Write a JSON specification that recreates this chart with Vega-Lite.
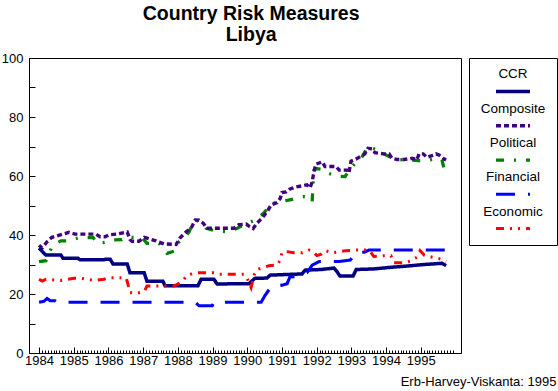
{
"$schema": "https://vega.github.io/schema/vega-lite/v6.json",
"padding": {"left": 0, "top": 4, "right": 0, "bottom": 0},
"background": "white",
"config": {"font": "Liberation Sans", "view": {"stroke": "black", "strokeWidth": 1}},
"title": {"text": ["Country Risk Measures", "Libya"], "fontSize": 19.5, "fontWeight": "bold", "lineHeight": 21, "anchor": "middle", "dx": -28, "offset": 6, "color": "black", "font": "Liberation Sans"},
"spacing": 8,
"bounds": "flush",
"resolve": {"scale": {"x": "independent", "y": "independent", "color": "independent", "strokeDash": "independent", "strokeWidth": "independent"}},
"datasets": {
"series": [
{"s":"Political","t":1984.00,"v":31.0},{"s":"Political","t":1984.20,"v":31.3},{"s":"Political","t":1984.35,"v":35.4},{"s":"Political","t":1984.49,"v":37.2},{"s":"Political","t":1984.63,"v":38.0},{"s":"Political","t":1984.86,"v":38.0},{"s":"Political","t":1985.15,"v":39.1},{"s":"Political","t":1985.56,"v":39.1},{"s":"Political","t":1985.67,"v":37.2},{"s":"Political","t":1985.84,"v":37.4},{"s":"Political","t":1986.02,"v":37.8},{"s":"Political","t":1986.10,"v":38.3},{"s":"Political","t":1986.39,"v":38.4},{"s":"Political","t":1986.51,"v":39.2},{"s":"Political","t":1986.97,"v":39.1},{"s":"Political","t":1987.11,"v":37.2},{"s":"Political","t":1987.46,"v":37.2},{"s":"Political","t":1987.60,"v":34.9},{"s":"Political","t":1987.69,"v":33.8},{"s":"Political","t":1987.89,"v":34.5},{"s":"Political","t":1987.98,"v":37.2},{"s":"Political","t":1988.18,"v":38.9},{"s":"Political","t":1988.32,"v":41.0},{"s":"Political","t":1988.41,"v":43.4},{"s":"Political","t":1988.52,"v":45.1},{"s":"Political","t":1988.70,"v":44.0},{"s":"Political","t":1988.81,"v":42.3},{"s":"Political","t":1989.04,"v":41.5},{"s":"Political","t":1989.42,"v":41.1},{"s":"Political","t":1989.71,"v":42.3},{"s":"Political","t":1989.91,"v":43.5},{"s":"Political","t":1990.05,"v":44.2},{"s":"Political","t":1990.25,"v":45.1},{"s":"Political","t":1990.48,"v":47.5},{"s":"Political","t":1990.71,"v":50.7},{"s":"Political","t":1990.97,"v":51.3},{"s":"Political","t":1991.26,"v":52.0},{"s":"Political","t":1991.64,"v":53.0},{"s":"Political","t":1991.81,"v":52.6},{"s":"Political","t":1991.87,"v":51.3},{"s":"Political","t":1991.90,"v":58.0},{"s":"Political","t":1991.93,"v":62.0},{"s":"Political","t":1992.01,"v":62.5},{"s":"Political","t":1992.16,"v":62.3},{"s":"Political","t":1992.30,"v":61.1},{"s":"Political","t":1992.56,"v":60.0},{"s":"Political","t":1992.82,"v":59.8},{"s":"Political","t":1992.93,"v":61.9},{"s":"Political","t":1993.11,"v":64.3},{"s":"Political","t":1993.28,"v":66.0},{"s":"Political","t":1993.37,"v":67.7},{"s":"Political","t":1993.46,"v":69.9},{"s":"Political","t":1993.77,"v":68.8},{"s":"Political","t":1993.94,"v":67.5},{"s":"Political","t":1994.06,"v":66.8},{"s":"Political","t":1994.29,"v":65.4},{"s":"Political","t":1994.58,"v":65.6},{"s":"Political","t":1994.95,"v":65.2},{"s":"Political","t":1995.18,"v":65.2},{"s":"Political","t":1995.47,"v":66.0},{"s":"Political","t":1995.61,"v":65.5},{"s":"Political","t":1995.67,"v":62.6},{"s":"Political","t":1995.73,"v":60.9},
{"s":"Composite","t":1984.00,"v":36.5},{"s":"Composite","t":1984.09,"v":35.6},{"s":"Composite","t":1984.23,"v":37.7},{"s":"Composite","t":1984.37,"v":39.2},{"s":"Composite","t":1984.52,"v":39.7},{"s":"Composite","t":1984.66,"v":40.2},{"s":"Composite","t":1984.86,"v":40.9},{"s":"Composite","t":1985.04,"v":40.3},{"s":"Composite","t":1985.64,"v":40.3},{"s":"Composite","t":1985.76,"v":39.4},{"s":"Composite","t":1985.90,"v":39.4},{"s":"Composite","t":1986.02,"v":40.1},{"s":"Composite","t":1986.25,"v":40.3},{"s":"Composite","t":1986.54,"v":41.0},{"s":"Composite","t":1986.62,"v":38.5},{"s":"Composite","t":1986.68,"v":37.9},{"s":"Composite","t":1986.88,"v":37.9},{"s":"Composite","t":1987.03,"v":39.2},{"s":"Composite","t":1987.23,"v":38.5},{"s":"Composite","t":1987.37,"v":38.0},{"s":"Composite","t":1987.60,"v":37.0},{"s":"Composite","t":1987.95,"v":36.8},{"s":"Composite","t":1988.06,"v":39.0},{"s":"Composite","t":1988.24,"v":41.1},{"s":"Composite","t":1988.38,"v":42.3},{"s":"Composite","t":1988.50,"v":45.1},{"s":"Composite","t":1988.61,"v":45.0},{"s":"Composite","t":1988.73,"v":44.0},{"s":"Composite","t":1988.84,"v":42.3},{"s":"Composite","t":1989.62,"v":42.3},{"s":"Composite","t":1989.76,"v":43.5},{"s":"Composite","t":1989.97,"v":43.7},{"s":"Composite","t":1990.05,"v":43.0},{"s":"Composite","t":1990.17,"v":42.2},{"s":"Composite","t":1990.28,"v":44.0},{"s":"Composite","t":1990.43,"v":45.8},{"s":"Composite","t":1990.57,"v":47.9},{"s":"Composite","t":1990.69,"v":50.2},{"s":"Composite","t":1990.86,"v":51.0},{"s":"Composite","t":1990.95,"v":52.4},{"s":"Composite","t":1991.00,"v":54.4},{"s":"Composite","t":1991.12,"v":54.6},{"s":"Composite","t":1991.23,"v":55.6},{"s":"Composite","t":1991.38,"v":56.2},{"s":"Composite","t":1991.72,"v":57.0},{"s":"Composite","t":1991.81,"v":56.0},{"s":"Composite","t":1991.87,"v":58.0},{"s":"Composite","t":1991.93,"v":62.0},{"s":"Composite","t":1991.98,"v":64.0},{"s":"Composite","t":1992.16,"v":64.8},{"s":"Composite","t":1992.24,"v":63.2},{"s":"Composite","t":1992.56,"v":63.2},{"s":"Composite","t":1992.65,"v":62.0},{"s":"Composite","t":1992.88,"v":62.0},{"s":"Composite","t":1992.93,"v":61.0},{"s":"Composite","t":1992.99,"v":65.0},{"s":"Composite","t":1993.14,"v":65.8},{"s":"Composite","t":1993.25,"v":66.5},{"s":"Composite","t":1993.39,"v":67.5},{"s":"Composite","t":1993.48,"v":69.4},{"s":"Composite","t":1993.60,"v":69.2},{"s":"Composite","t":1993.68,"v":67.9},{"s":"Composite","t":1993.94,"v":67.5},{"s":"Composite","t":1994.09,"v":67.5},{"s":"Composite","t":1994.17,"v":66.0},{"s":"Composite","t":1994.32,"v":65.6},{"s":"Composite","t":1994.52,"v":65.6},{"s":"Composite","t":1994.75,"v":66.0},{"s":"Composite","t":1994.89,"v":65.5},{"s":"Composite","t":1994.95,"v":67.5},{"s":"Composite","t":1995.07,"v":67.5},{"s":"Composite","t":1995.18,"v":66.3},{"s":"Composite","t":1995.30,"v":66.8},{"s":"Composite","t":1995.44,"v":67.5},{"s":"Composite","t":1995.53,"v":67.1},{"s":"Composite","t":1995.64,"v":66.0},{"s":"Composite","t":1995.73,"v":65.4},
{"s":"CCR","t":1984.00,"v":35.6},{"s":"CCR","t":1984.14,"v":33.8},{"s":"CCR","t":1984.20,"v":33.2},{"s":"CCR","t":1984.63,"v":33.2},{"s":"CCR","t":1984.69,"v":32.1},{"s":"CCR","t":1985.12,"v":32.1},{"s":"CCR","t":1985.18,"v":31.6},{"s":"CCR","t":1985.87,"v":31.6},{"s":"CCR","t":1985.93,"v":31.8},{"s":"CCR","t":1986.05,"v":31.8},{"s":"CCR","t":1986.13,"v":30.2},{"s":"CCR","t":1986.54,"v":30.2},{"s":"CCR","t":1986.62,"v":27.2},{"s":"CCR","t":1987.03,"v":27.2},{"s":"CCR","t":1987.11,"v":24.3},{"s":"CCR","t":1987.57,"v":24.3},{"s":"CCR","t":1987.63,"v":22.8},{"s":"CCR","t":1988.58,"v":22.8},{"s":"CCR","t":1988.67,"v":25.0},{"s":"CCR","t":1989.04,"v":25.0},{"s":"CCR","t":1989.13,"v":23.4},{"s":"CCR","t":1990.05,"v":23.5},{"s":"CCR","t":1990.22,"v":25.3},{"s":"CCR","t":1990.57,"v":25.4},{"s":"CCR","t":1990.66,"v":26.4},{"s":"CCR","t":1991.12,"v":26.6},{"s":"CCR","t":1991.58,"v":26.8},{"s":"CCR","t":1991.67,"v":28.1},{"s":"CCR","t":1992.13,"v":28.3},{"s":"CCR","t":1992.50,"v":28.8},{"s":"CCR","t":1992.59,"v":27.5},{"s":"CCR","t":1992.67,"v":26.1},{"s":"CCR","t":1993.05,"v":26.1},{"s":"CCR","t":1993.14,"v":28.3},{"s":"CCR","t":1993.65,"v":28.5},{"s":"CCR","t":1994.09,"v":29.0},{"s":"CCR","t":1994.63,"v":29.5},{"s":"CCR","t":1995.10,"v":30.0},{"s":"CCR","t":1995.61,"v":30.4},{"s":"CCR","t":1995.73,"v":29.6},
{"s":"Financial","t":1984.00,"v":17.2},{"s":"Financial","t":1984.14,"v":17.5},{"s":"Financial","t":1984.23,"v":18.5},{"s":"Financial","t":1984.32,"v":17.7},{"s":"Financial","t":1984.46,"v":17.7},{"s":"Financial","t":1984.52,"v":17.2},{"s":"Financial","t":1988.50,"v":17.2},{"s":"Financial","t":1988.61,"v":16.0},{"s":"Financial","t":1988.99,"v":16.0},{"s":"Financial","t":1989.04,"v":17.2},{"s":"Financial","t":1990.40,"v":17.2},{"s":"Financial","t":1990.51,"v":19.5},{"s":"Financial","t":1990.63,"v":21.5},{"s":"Financial","t":1990.69,"v":22.5},{"s":"Financial","t":1991.00,"v":23.0},{"s":"Financial","t":1991.15,"v":23.5},{"s":"Financial","t":1991.23,"v":25.8},{"s":"Financial","t":1991.49,"v":26.0},{"s":"Financial","t":1991.72,"v":27.2},{"s":"Financial","t":1991.87,"v":29.8},{"s":"Financial","t":1992.07,"v":31.0},{"s":"Financial","t":1992.65,"v":31.0},{"s":"Financial","t":1992.97,"v":31.5},{"s":"Financial","t":1993.14,"v":34.0},{"s":"Financial","t":1993.37,"v":34.2},{"s":"Financial","t":1993.51,"v":34.9},{"s":"Financial","t":1995.73,"v":34.9},
{"s":"Economic","t":1984.00,"v":25.0},{"s":"Economic","t":1984.09,"v":24.4},{"s":"Economic","t":1984.20,"v":25.0},{"s":"Economic","t":1984.63,"v":24.6},{"s":"Economic","t":1985.01,"v":25.3},{"s":"Economic","t":1985.21,"v":25.3},{"s":"Economic","t":1985.59,"v":24.6},{"s":"Economic","t":1985.87,"v":25.0},{"s":"Economic","t":1985.99,"v":25.5},{"s":"Economic","t":1986.51,"v":25.5},{"s":"Economic","t":1986.56,"v":23.4},{"s":"Economic","t":1986.62,"v":20.5},{"s":"Economic","t":1986.80,"v":20.2},{"s":"Economic","t":1987.03,"v":20.8},{"s":"Economic","t":1987.11,"v":22.7},{"s":"Economic","t":1987.89,"v":22.7},{"s":"Economic","t":1988.09,"v":24.0},{"s":"Economic","t":1988.29,"v":26.5},{"s":"Economic","t":1988.55,"v":27.2},{"s":"Economic","t":1989.04,"v":27.2},{"s":"Economic","t":1989.19,"v":26.7},{"s":"Economic","t":1989.91,"v":26.7},{"s":"Economic","t":1990.02,"v":24.7},{"s":"Economic","t":1990.11,"v":22.2},{"s":"Economic","t":1990.20,"v":26.5},{"s":"Economic","t":1990.28,"v":28.3},{"s":"Economic","t":1990.63,"v":29.6},{"s":"Economic","t":1990.86,"v":29.8},{"s":"Economic","t":1990.95,"v":31.5},{"s":"Economic","t":1991.00,"v":34.0},{"s":"Economic","t":1991.06,"v":34.5},{"s":"Economic","t":1991.35,"v":34.0},{"s":"Economic","t":1991.58,"v":34.0},{"s":"Economic","t":1991.78,"v":34.9},{"s":"Economic","t":1991.87,"v":34.6},{"s":"Economic","t":1992.01,"v":33.0},{"s":"Economic","t":1992.13,"v":33.5},{"s":"Economic","t":1992.24,"v":34.7},{"s":"Economic","t":1992.47,"v":34.0},{"s":"Economic","t":1992.85,"v":34.7},{"s":"Economic","t":1993.14,"v":34.9},{"s":"Economic","t":1993.51,"v":34.9},{"s":"Economic","t":1993.65,"v":32.7},{"s":"Economic","t":1993.80,"v":32.8},{"s":"Economic","t":1993.94,"v":33.0},{"s":"Economic","t":1994.14,"v":33.0},{"s":"Economic","t":1994.23,"v":30.6},{"s":"Economic","t":1994.55,"v":30.6},{"s":"Economic","t":1994.72,"v":31.3},{"s":"Economic","t":1994.89,"v":32.5},{"s":"Economic","t":1994.98,"v":34.7},{"s":"Economic","t":1995.10,"v":33.2},{"s":"Economic","t":1995.24,"v":32.7},{"s":"Economic","t":1995.53,"v":32.0},{"s":"Economic","t":1995.73,"v":31.0}
],
"legend": [{"s":"CCR"},{"s":"Composite"},{"s":"Political"},{"s":"Financial"},{"s":"Economic"}]
},
"hconcat": [
{
"width": 432, "height": 295,
"data": {"name": "series"},
"mark": {"type": "line", "clip": true},
"encoding": {
"x": {"field": "t", "type": "quantitative",
 "scale": {"domain": [1983.71, 1996.16], "nice": false, "zero": false},
 "axis": {
  "values": [1984,1984.083,1984.167,1984.25,1984.333,1984.417,1984.5,1984.583,1984.667,1984.75,1984.833,1984.917,1985,1985.083,1985.167,1985.25,1985.333,1985.417,1985.5,1985.583,1985.667,1985.75,1985.833,1985.917,1986,1986.083,1986.167,1986.25,1986.333,1986.417,1986.5,1986.583,1986.667,1986.75,1986.833,1986.917,1987,1987.083,1987.167,1987.25,1987.333,1987.417,1987.5,1987.583,1987.667,1987.75,1987.833,1987.917,1988,1988.083,1988.167,1988.25,1988.333,1988.417,1988.5,1988.583,1988.667,1988.75,1988.833,1988.917,1989,1989.083,1989.167,1989.25,1989.333,1989.417,1989.5,1989.583,1989.667,1989.75,1989.833,1989.917,1990,1990.083,1990.167,1990.25,1990.333,1990.417,1990.5,1990.583,1990.667,1990.75,1990.833,1990.917,1991,1991.083,1991.167,1991.25,1991.333,1991.417,1991.5,1991.583,1991.667,1991.75,1991.833,1991.917,1992,1992.083,1992.167,1992.25,1992.333,1992.417,1992.5,1992.583,1992.667,1992.75,1992.833,1992.917,1993,1993.083,1993.167,1993.25,1993.333,1993.417,1993.5,1993.583,1993.667,1993.75,1993.833,1993.917,1994,1994.083,1994.167,1994.25,1994.333,1994.417,1994.5,1994.583,1994.667,1994.75,1994.833,1994.917,1995,1995.083,1995.167,1995.25,1995.333,1995.417,1995.5,1995.583,1995.667,1995.75,1995.833,1995.917],
  "labelExpr": "abs(datum.value - round(datum.value)) < 0.01 ? format(round(datum.value), 'd') : ''",
  "tickSize": {"condition": {"test": "abs(datum.value - round(datum.value)) < 0.01", "value": -6}, "value": -3},
  "labelPadding": 7,
  "labelFontSize": 13, "labelColor": "black", "labelFont": "Liberation Sans",
  "labelOverlap": false, "labelFlush": false,
  "tickColor": "black", "domainColor": "black", "grid": false,
  "title": "Erb-Harvey-Viskanta: 1995", "titleFontSize": 13, "titleFontWeight": "normal", "titleColor": "black", "titleFont": "Liberation Sans",
  "titleAlign": "right", "titleBaseline": "top", "titleX": 527, "titleY": 22
 }},
"y": {"field": "v", "type": "quantitative",
 "scale": {"domain": [0, 100], "nice": false},
 "axis": {
  "values": [0,10,20,30,40,50,60,70,80,90,100],
  "labelExpr": "datum.value % 20 === 0 ? datum.label : ''",
  "tickSize": -6, "labelPadding": 12,
  "labelFontSize": 13, "labelColor": "black", "labelFont": "Liberation Sans",
  "tickColor": "black", "domainColor": "black", "grid": false, "title": null, "labelOverlap": false, "labelFlush": false
 }},
"color": {"field": "s", "type": "nominal", "legend": null,
 "scale": {"domain": ["CCR","Composite","Political","Financial","Economic"], "range": ["#000080","#400080","#008000","#0000ff","#ff0000"]}},
"strokeDash": {"field": "s", "type": "nominal", "legend": null,
 "scale": {"domain": ["CCR","Composite","Political","Financial","Economic"], "range": [[1,0],[5,3],[8,10,2,10],[19,13],[8,6,2,6,2,6]]}},
"strokeWidth": {"field": "s", "type": "nominal", "legend": null,
 "scale": {"domain": ["CCR","Composite","Political","Financial","Economic"], "range": [3.5,3,2,2,2]}}
}
},
{
"width": 88, "height": 187,
"data": {"name": "legend"},
"layer": [
{"mark": {"type": "text", "fontSize": 13.5, "font": "Liberation Sans", "color": "black", "baseline": "middle", "align": "center", "yOffset": -8.5},
 "encoding": {
  "y": {"field": "s", "type": "nominal", "scale": {"type": "point", "domain": ["CCR","Composite","Political","Financial","Economic"], "padding": 0.726}, "axis": null},
  "text": {"field": "s"}
 }},
{"mark": {"type": "point", "shape": "stroke", "size": 1156, "filled": false, "opacity": 1, "yOffset": 8.5},
 "encoding": {
  "y": {"field": "s", "type": "nominal", "scale": {"type": "point", "domain": ["CCR","Composite","Political","Financial","Economic"], "padding": 0.726}, "axis": null},
  "color": {"field": "s", "type": "nominal", "legend": null,
   "scale": {"domain": ["CCR","Composite","Political","Financial","Economic"], "range": ["#000080","#400080","#008000","#0000ff","#ff0000"]}},
  "strokeDash": {"field": "s", "type": "nominal", "legend": null,
   "scale": {"domain": ["CCR","Composite","Political","Financial","Economic"], "range": [[1,0],[5,3],[8,10,2,10],[19,13],[8,6,2,6,2,6]]}},
  "strokeWidth": {"field": "s", "type": "nominal", "legend": null,
   "scale": {"domain": ["CCR","Composite","Political","Financial","Economic"], "range": [3.5,3,2,2,2]}}
 }}
]
}
]
}
